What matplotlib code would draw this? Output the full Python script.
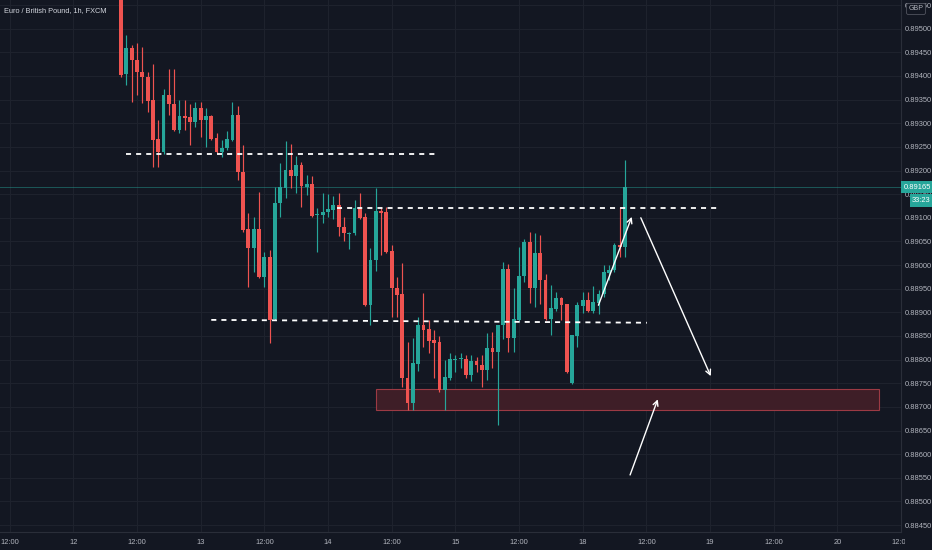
import numpy as np
import matplotlib
matplotlib.use('Agg')
import matplotlib.pyplot as plt
import matplotlib.transforms as mtransforms
from matplotlib.patches import Rectangle

# EUR/GBP 1h candles (bar 0 = the 12th, 00:00)
first_bar = 9
opens = [0.89578, 0.89404, 0.89459, 0.89434, 0.89408, 0.89398, 0.89349, 0.89267, 0.89239, 0.89360,
         0.89341, 0.89286, 0.89315, 0.89313, 0.89303, 0.89332, 0.89307, 0.89315, 0.89269, 0.89239,
         0.89248, 0.89265, 0.89317, 0.89197, 0.89076, 0.89036, 0.89076, 0.88975, 0.89017, 0.88886,
         0.89131, 0.89163, 0.89201, 0.89188, 0.89212, 0.89165, 0.89171, 0.89106, 0.89106, 0.89112,
         0.89116, 0.89127, 0.89080, 0.89066, 0.89068, 0.89119, 0.89102, 0.88915, 0.89011, 0.89114,
         0.89112, 0.89030, 0.88951, 0.88939, 0.88761, 0.88708, 0.88791, 0.88873, 0.88865, 0.88841,
         0.88837, 0.88736, 0.88761, 0.88799, 0.88801, 0.88801, 0.88767, 0.88797, 0.88789, 0.88778,
         0.88824, 0.88816, 0.88873, 0.88992, 0.88846, 0.88884, 0.88977, 0.89049, 0.88951, 0.89025,
         0.88968, 0.88886, 0.88907, 0.88930, 0.88918, 0.88751, 0.88850, 0.88913, 0.88926, 0.88903,
         0.88920, 0.88939, 0.88983, 0.88990, 0.89042, 0.89038]
closes = [0.89402, 0.89459, 0.89434, 0.89408, 0.89398, 0.89347, 0.89265, 0.89239, 0.89360, 0.89341,
          0.89286, 0.89315, 0.89311, 0.89303, 0.89332, 0.89307, 0.89315, 0.89267, 0.89239, 0.89248,
          0.89267, 0.89317, 0.89197, 0.89074, 0.89036, 0.89076, 0.88975, 0.89017, 0.88884, 0.89131,
          0.89165, 0.89201, 0.89188, 0.89212, 0.89167, 0.89171, 0.89104, 0.89108, 0.89112, 0.89119,
          0.89127, 0.89080, 0.89068, 0.89068, 0.89121, 0.89100, 0.88915, 0.89011, 0.89114, 0.89110,
          0.89028, 0.88951, 0.88937, 0.88761, 0.88708, 0.88793, 0.88873, 0.88863, 0.88839, 0.88835,
          0.88736, 0.88763, 0.88801, 0.88801, 0.88803, 0.88767, 0.88797, 0.88789, 0.88778, 0.88824,
          0.88816, 0.88873, 0.88992, 0.88846, 0.88886, 0.88977, 0.89049, 0.88951, 0.89025, 0.88968,
          0.88886, 0.88909, 0.88930, 0.88915, 0.88774, 0.88852, 0.88915, 0.88926, 0.88903, 0.88922,
          0.88939, 0.88985, 0.88990, 0.89042, 0.89038, 0.89165]
highs = [0.89585, 0.89487, 0.89466, 0.89470, 0.89461, 0.89408, 0.89425, 0.89307, 0.89372, 0.89415,
         0.89415, 0.89349, 0.89349, 0.89341, 0.89345, 0.89345, 0.89332, 0.89317, 0.89279, 0.89265,
         0.89284, 0.89345, 0.89337, 0.89254, 0.89110, 0.89102, 0.89155, 0.89028, 0.89032, 0.89165,
         0.89216, 0.89262, 0.89256, 0.89231, 0.89218, 0.89190, 0.89188, 0.89121, 0.89152, 0.89150,
         0.89146, 0.89152, 0.89102, 0.89070, 0.89138, 0.89152, 0.89110, 0.89036, 0.89163, 0.89123,
         0.89123, 0.89042, 0.88975, 0.89004, 0.88837, 0.88846, 0.88890, 0.88941, 0.88884, 0.88863,
         0.88850, 0.88799, 0.88814, 0.88810, 0.88814, 0.88810, 0.88810, 0.88805, 0.88810, 0.88856,
         0.88858, 0.88873, 0.89006, 0.89002, 0.88951, 0.89038, 0.89055, 0.89070, 0.89068, 0.89064,
         0.88981, 0.88958, 0.88943, 0.88932, 0.88918, 0.88852, 0.88922, 0.88943, 0.88943, 0.88956,
         0.88947, 0.89000, 0.89000, 0.89047, 0.89123, 0.89222]
lows = [0.89398, 0.89381, 0.89345, 0.89360, 0.89343, 0.89324, 0.89207, 0.89207, 0.89235, 0.89317,
        0.89284, 0.89279, 0.89286, 0.89254, 0.89292, 0.89271, 0.89250, 0.89265, 0.89237, 0.89229,
        0.89243, 0.89262, 0.89180, 0.89070, 0.88954, 0.88985, 0.88973, 0.88954, 0.88835, 0.88884,
        0.89102, 0.89142, 0.89163, 0.89152, 0.89123, 0.89148, 0.89102, 0.89028, 0.89089, 0.89102,
        0.89097, 0.89061, 0.89051, 0.89034, 0.89064, 0.89097, 0.88913, 0.88873, 0.88987, 0.89021,
        0.89025, 0.88890, 0.88890, 0.88742, 0.88693, 0.88693, 0.88776, 0.88827, 0.88814, 0.88761,
        0.88731, 0.88693, 0.88757, 0.88774, 0.88782, 0.88761, 0.88755, 0.88774, 0.88742, 0.88757,
        0.88782, 0.88662, 0.88844, 0.88816, 0.88816, 0.88882, 0.88964, 0.88920, 0.88911, 0.88918,
        0.88884, 0.88852, 0.88903, 0.88884, 0.88772, 0.88748, 0.88827, 0.88899, 0.88901, 0.88899,
        0.88896, 0.88932, 0.88968, 0.88985, 0.89017, 0.89017]

time_ticks = [-12, 0, 12, 24, 36, 48, 60, 72, 84, 96, 108, 120, 132, 144, 156]
time_labels = ['12:00', '12', '12:00', '13', '12:00', '14', '12:00', '15',
               '12:00', '18', '12:00', '19', '12:00', '20', '12:00']
price_ticks = np.arange(0.8845, 0.89551, 0.0005)

# drawings: dashed levels (price at start, price at end, bar start, bar end)
level_prices_a = [0.89234, 0.89120, 0.88884]
level_prices_b = [0.89234, 0.89120, 0.88878]
level_start = [10, 49.7, 26]
level_end = [68.2, 121.5, 108.1]
zone_top, zone_bottom = 0.88737, 0.88694
zone_start, zone_end = 57.0, 151.9
arrow_tails = [(98.97, 0.88915), (106.96, 0.89100), (104.94, 0.88556)]
arrow_tips = [(105.26, 0.89102), (120.15, 0.88765), (110.16, 0.88716)]
countdown = '33:23'

bg = '#131722'
grid_c = '#1e222d'
up = '#26a69a'
down = '#ef5350'
txt = '#b2b5be'

plt.rcParams['font.family'] = ['Liberation Sans', 'DejaVu Sans']

fig = plt.figure(figsize=(9.32, 5.5), dpi=100, facecolor=bg)
ax = fig.add_axes([0, 18 / 550, 901 / 932, 532 / 550])
ax.set_facecolor(bg)
ax.set_xlim(-13.82, 156.0)
ax.set_ylim(0.884353, 0.895607)
px = (0.895607 - 0.884353) / 532   # one pixel in price units

ax.set_xticks(time_ticks)
ax.set_xticklabels(time_labels)
ax.set_yticks(price_ticks)
ax.set_yticklabels(['%.5f' % p for p in price_ticks])
ax.yaxis.tick_right()
ax.grid(color=grid_c, lw=0.8)
ax.set_axisbelow(True)
ax.tick_params(axis='both', length=0, labelsize=5.4, labelcolor=txt)
ax.tick_params(axis='y', pad=2.5)
ax.tick_params(axis='x', pad=5)
for side in ['top', 'left']:
    ax.spines[side].set_visible(False)
for side in ['right', 'bottom']:
    ax.spines[side].set_color('#2a2e39')

o = np.array(opens)
c = np.array(closes)
h = np.array(highs)
l = np.array(lows)
x = first_bar + np.arange(len(o))
colors = np.where(c >= o, up, down)

ax.vlines(x, l, h, colors=colors, lw=0.85, zorder=2)
ax.bar(x, np.maximum(np.abs(c - o), 0.000015), bottom=np.minimum(o, c),
       width=0.72, color=colors, linewidth=0, zorder=3)

# last price line
ax.axhline(closes[-1], color=up, lw=0.7, alpha=0.45, zorder=1)

# zone
ax.add_patch(Rectangle((zone_start, zone_bottom), zone_end - zone_start,
                       zone_top - zone_bottom, facecolor='#3e1e27',
                       edgecolor='#9c3a44', lw=0.8, zorder=1.5))

for pa, pb, s, e in zip(level_prices_a, level_prices_b, level_start, level_end):
    ax.plot([s, e], [pa, pb], color='white', lw=1.3,
            linestyle=(0, (2.8, 2.8)), zorder=4)

for tail, tip in zip(arrow_tails, arrow_tips):
    ax.annotate('', xy=tip, xytext=tail,
                arrowprops=dict(arrowstyle='->', color='white', lw=1.0,
                                mutation_scale=9, shrinkA=0, shrinkB=0),
                zorder=5)

ax.text(4 / 901, 1 - 11 / 532, 'Euro / British Pound, 1h, FXCM',
        transform=ax.transAxes, fontsize=5.3, color='#d1d4dc', va='center')

# price axis labels for the last bar
trans = mtransforms.blended_transform_factory(ax.transAxes, ax.transData)
ax.add_patch(Rectangle((1.0, closes[-1] - 5.5 * px), 31 / 901, 11.5 * px,
                       transform=trans, fc=up, ec='none', clip_on=False, zorder=10))
ax.text(1 + 16 / 901, closes[-1], '%.5f' % closes[-1], transform=trans,
        fontsize=5.4, color='white', va='center', ha='center', clip_on=False, zorder=11)
ax.add_patch(Rectangle((1 + 9 / 901, closes[-1] - 19.5 * px), 22 / 901, 12.5 * px,
                       transform=trans, fc=up, ec='none', clip_on=False, zorder=10))
ax.text(1 + 20 / 901, closes[-1] - 13.2 * px, countdown, transform=trans,
        fontsize=5.4, color='white', va='center', ha='center', clip_on=False, zorder=11)

fig.text(916 / 932, 1 - 9 / 550, 'GBP', fontsize=5, color=txt, ha='center',
         va='center', bbox=dict(boxstyle='round,pad=0.3', fc=bg, ec='#50535e', lw=0.6))

# hide the part of the last time label that runs under the price axis
fig.patches.append(Rectangle((905 / 932, 0), 27 / 932, 17 / 550,
                             transform=fig.transFigure, fc=bg, ec='none', zorder=5))

plt.savefig('out.png', dpi=100, facecolor=bg)
